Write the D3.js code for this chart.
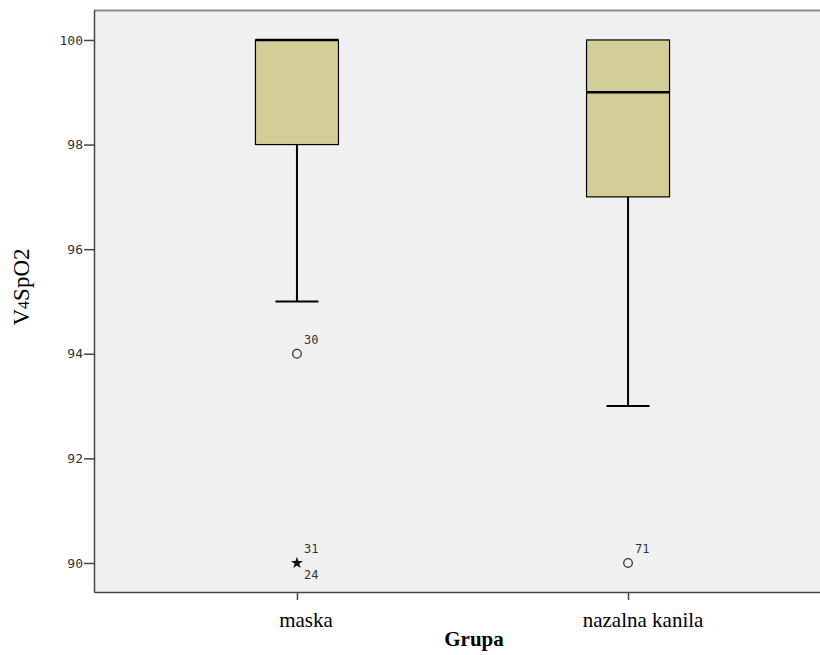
<!DOCTYPE html>
<html>
<head>
<meta charset="utf-8">
<script src="https://cdn.jsdelivr.net/npm/d3@7"></script>
<style>
  body { margin: 0; background: #fff; }
  .tick text { font-family: "DejaVu Sans Mono", monospace; font-size: 13px; fill: #333; }
</style>
</head>
<body>
<script>
// Podaci
const grupe = ["maska", "nazalna kanila"];
const donjiBrk = [95, 93];
const q1 = [98, 97];
const medijana = [100, 99];
const q3 = [100, 100];
const gornjiBrk = [100, 100];
// outlieri: grupa, vrijednost, tip, oznake
const outlierGrupa = ["maska", "maska", "nazalna kanila"];
const outlierVrijednost = [94, 90, 90];
const outlierTip = ["krug", "zvijezda", "krug"];
const outlierOznaka = [["30"], ["31", "24"], ["71"]];
const yTicks = [90, 92, 94, 96, 98, 100];

const width = 820, height = 655;
const mLeft = 94, mTop = 10, mBottom = 592, mRight = 831;

const svg = d3.select("body").append("svg")
    .attr("width", width)
    .attr("height", height);

const y = d3.scaleLinear().domain([89.445, 100.573]).range([mBottom, mTop]);
const x = d3.scalePoint().domain(grupe).range([mLeft, mRight]).padding(0.613);

// pozadina
svg.append("rect")
    .attr("x", mLeft).attr("y", mTop)
    .attr("width", mRight - mLeft).attr("height", mBottom - mTop)
    .attr("fill", "#f0f0f0");

// gornji rub
svg.append("line")
    .attr("x1", mLeft).attr("x2", width)
    .attr("y1", mTop + 0.5).attr("y2", mTop + 0.5)
    .attr("stroke", "#888").attr("stroke-width", 2);

// osi
const yAxis = svg.append("g")
    .attr("transform", `translate(${mLeft},0)`)
    .call(d3.axisLeft(y).tickValues(yTicks).tickSize(10).tickSizeOuter(0).tickPadding(1));
yAxis.select(".domain").attr("stroke", "#444").attr("stroke-width", 1.5);
yAxis.selectAll(".tick line").attr("stroke", "#444").attr("stroke-width", 1.5);

const xAxis = svg.append("g")
    .attr("transform", `translate(0,${mBottom})`)
    .call(d3.axisBottom(x).tickSize(8).tickSizeOuter(0).tickFormat(""));
xAxis.select(".domain").attr("stroke", "#444").attr("stroke-width", 1.5);
xAxis.selectAll(".tick line").attr("stroke", "#444").attr("stroke-width", 1.5);

// nazivi kategorija (malo pomaknuti udesno kao u SPSS-u)
const pomak = [9, 15];
svg.selectAll(".kat")
    .data(grupe)
    .enter().append("text")
    .attr("x", (d, i) => x(d) + pomak[i])
    .attr("y", 627)
    .attr("text-anchor", "middle")
    .attr("font-family", "Liberation Serif, serif")
    .attr("font-size", 21)
    .text(d => d);

// kutije
const boxW = 83, capW = 43;
grupe.forEach((g, i) => {
    const cx = x(g);
    svg.append("line")
        .attr("x1", cx).attr("x2", cx)
        .attr("y1", y(donjiBrk[i])).attr("y2", y(q1[i]))
        .attr("stroke", "#000").attr("stroke-width", 2);
    svg.append("line")
        .attr("x1", cx - capW / 2).attr("x2", cx + capW / 2)
        .attr("y1", y(donjiBrk[i])).attr("y2", y(donjiBrk[i]))
        .attr("stroke", "#000").attr("stroke-width", 2);
    svg.append("line")
        .attr("x1", cx).attr("x2", cx)
        .attr("y1", y(gornjiBrk[i])).attr("y2", y(q3[i]))
        .attr("stroke", "#000").attr("stroke-width", 2);
    svg.append("rect")
        .attr("x", cx - boxW / 2).attr("y", y(q3[i]))
        .attr("width", boxW).attr("height", y(q1[i]) - y(q3[i]))
        .attr("fill", "#d3ce97")
        .attr("stroke", "#000").attr("stroke-width", 1.2);
    svg.append("line")
        .attr("x1", cx - boxW / 2).attr("x2", cx + boxW / 2)
        .attr("y1", y(medijana[i])).attr("y2", y(medijana[i]))
        .attr("stroke", "#000").attr("stroke-width", 2.5);
});

// outlieri
outlierVrijednost.forEach((v, i) => {
    const cx = x(outlierGrupa[i]), cy = y(v);
    if (outlierTip[i] === "krug") {
        svg.append("circle")
            .attr("cx", cx).attr("cy", cy).attr("r", 4.3)
            .attr("fill", "none").attr("stroke", "#333").attr("stroke-width", 1.3);
    } else {
        svg.append("path")
            .attr("transform", `translate(${cx},${cy})`)
            .attr("d", d3.symbol(d3.symbolStar, 45)())
            .attr("fill", "#111");
    }
    const oz = outlierOznaka[i];
    svg.append("text")
        .attr("x", cx + 7).attr("y", cy - 10)
        .attr("font-family", "DejaVu Sans Mono, monospace")
        .attr("font-size", 12).attr("fill", "#333")
        .text(oz[0]);
    if (oz.length > 1) {
        svg.append("text")
            .attr("x", cx + 7).attr("y", cy + 16)
            .attr("font-family", "DejaVu Sans Mono, monospace")
            .attr("font-size", 12).attr("fill", "#333")
            .text(oz[1]);
    }
});

// naslovi osi
const yl = svg.append("text")
    .attr("transform", "translate(29,287) rotate(-90)")
    .attr("text-anchor", "middle")
    .attr("font-family", "Liberation Serif, serif")
    .attr("font-size", 23);
yl.append("tspan").text("V");
yl.append("tspan").attr("font-size", 16).text("4");
yl.append("tspan").text("SpO2");

svg.append("text")
    .attr("x", 474).attr("y", 646)
    .attr("text-anchor", "middle")
    .attr("font-family", "Liberation Serif, serif")
    .attr("font-weight", "bold")
    .attr("font-size", 21)
    .text("Grupa");
</script>
</body>
</html>
